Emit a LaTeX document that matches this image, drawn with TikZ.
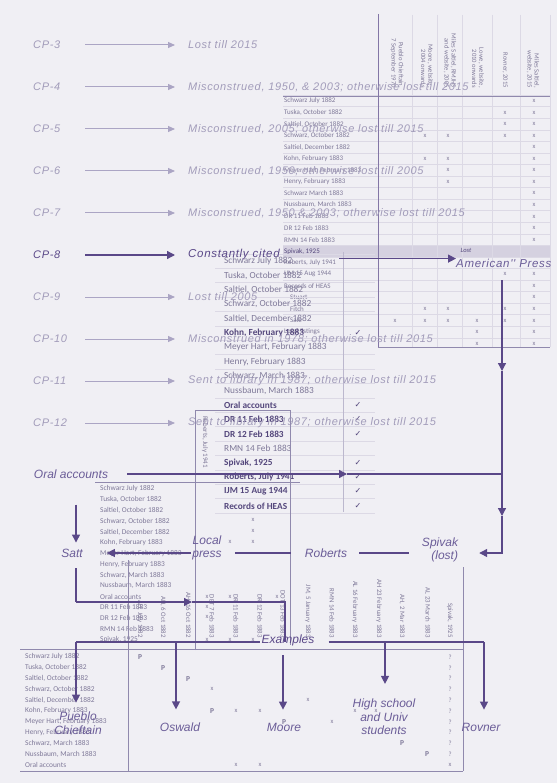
\documentclass[tikz,border=0pt]{standalone}
\usepackage{fontspec}
\setmainfont{Liberation Sans}
\newfontfamily\hand{Liberation Sans}
\newfontfamily\handw{Liberation Sans}[LetterSpace=6]
\newfontfamily\tab{Carlito}
\newfontfamily\sym{DejaVu Sans}
\usetikzlibrary{arrows.meta}
\definecolor{bg}{HTML}{F0EFF4}
\definecolor{dk}{HTML}{5A4888}
\definecolor{lb}{HTML}{6B5D98}
\definecolor{fd}{HTML}{ABA5C4}
\definecolor{fdt}{HTML}{A29CBA}
\definecolor{tt}{HTML}{7F7999}
\definecolor{tb}{HTML}{54477C}
\definecolor{gr}{HTML}{DCD9E5}
\definecolor{md}{HTML}{9089AD}
\definecolor{band}{HTML}{D5D1E0}
\tikzset{
  cpl/.style={font=\handw\itshape\fontsize{11}{12}\selectfont, text=fdt, anchor=west, inner sep=0pt},
  cpd/.style={cpl, text=dk},
  hl/.style={font=\hand\itshape\fontsize{12}{13.5}\selectfont, text=lb, inner sep=1pt, align=center},
  farr/.style={draw=fd, line width=1pt, -{Triangle[length=7pt,width=6pt]}},
  darr/.style={draw=dk, line width=1.3pt, -{Triangle[length=8pt,width=8pt]}},
  dln/.style={draw=dk, line width=1.3pt},
  mln/.style={draw=md, line width=0.7pt},
  vln/.style={draw=dk!75, line width=1pt},
  hln/.style={draw=md, line width=0.8pt},
  gln/.style={draw=gr, line width=0.5pt},
  ts/.style={font=\tab\fontsize{7}{8}\selectfont, text=tt, anchor=west, inner sep=0pt},
  tm/.style={font=\tab\fontsize{9.3}{10}\selectfont, text=tt, anchor=west, inner sep=0pt},
  tmb/.style={tm, font=\tab\bfseries\fontsize{9.3}{10}\selectfont, text=tb},
  tl/.style={font=\tab\fontsize{7.4}{8}\selectfont, text=tt, anchor=west, inner sep=0pt},
  xm/.style={font=\tab\fontsize{6.5}{7}\selectfont, text=tt, inner sep=0pt},
  pm/.style={font=\tab\bfseries\fontsize{7.5}{8}\selectfont, text=tt, inner sep=0pt},
  chk/.style={font=\sym\fontsize{8}{9}\selectfont, text=tb, inner sep=0pt},
  hdr/.style={font=\tab\fontsize{6.6}{7.2}\selectfont, text=tt, rotate=-90, anchor=east, align=right, inner sep=0pt},
  hdb/.style={font=\tab\fontsize{6.8}{7.5}\selectfont, text=tt, rotate=-90, anchor=east, inner sep=0pt},
}
\begin{document}
\begin{tikzpicture}[x=1pt,y=-1pt]
\fill[bg] (0,0) rectangle (557,783);
\useasboundingbox (0,0) rectangle (557,783);

% ================= right top table =================
\fill[band] (283,245.4) rectangle (550,256.9);
\foreach \k in {0,...,21} \draw[gln] (283,{95.2+11.55*\k}) -- (550,{95.2+11.55*\k});
\foreach \x in {412,437,462,492,520,550} \draw[gln] (\x,15) -- (\x,347);
\draw[hln] (283,96) -- (550,96);
\draw[vln] (378,14) -- (378,348);
\draw[hln] (378,347) -- (550,347);

\node[ts] (r0)  at (284,101)    {Schwarz July 1882};
\node[ts] (r1)  at (284,112.55) {Tuska, October 1882};
\node[ts] (r2)  at (284,124.1)  {Saltiel, October 1882};
\node[ts] (r3)  at (284,135.65) {Schwarz, October 1882};
\node[ts] (r4)  at (284,147.2)  {Saltiel, December 1882};
\node[ts] (r5)  at (284,158.75) {Kohn, February 1883};
\node[ts] (r6)  at (284,170.3)  {Meyer Hart, February 1883};
\node[ts] (r7)  at (284,181.85) {Henry, February 1883};
\node[ts] (r8)  at (284,193.4)  {Schwarz March 1883};
\node[ts] (r9)  at (284,204.95) {Nussbaum, March 1883};
\node[ts] (r10) at (284,216.5)  {DR 11 Feb 1883};
\node[ts] (r11) at (284,228.05) {DR 12 Feb 1883};
\node[ts] (r12) at (284,239.6)  {RMN 14 Feb 1883};
\node[ts,text=tb] (r13) at (284,251.15) {Spivak, 1925};
\node[ts] (r14) at (284,262.7)  {Roberts, July 1941};
\node[ts] (r15) at (284,274.25) {IJM 15 Aug 1944};
\node[ts] (r16) at (284,285.8)  {Records of HEAS};
\node[ts] (r17) at (290,297.35) {Stuart};
\node[ts] (r18) at (290,308.9)  {Fitch};
\node[ts] (r19) at (290,320.45) {Sale};
\node[ts] (r20) at (284,332)    {Local listings};

\node[hdr] (h1) at (397,88) {Pueblo Chieftain,\\7 September 1970};
\node[hdr] (h2) at (427,88) {Moore, website,\\2004 onwards};
\node[hdr] (h3) at (450,88) {Miles Saltiel, RMJHS\\and website, 2005};
\node[hdr] (h4) at (478,88) {Lowe, website,\\2010 onwards};
\node[hdr] (h5) at (505,88) {Rovner, 2015};
\node[hdr] (h6) at (533,88) {Miles Saltiel,\\website, 2015};
\node[font=\tab\itshape\fontsize{6.5}{7}\selectfont, text=tb, inner sep=0pt] (lost) at (466,250.5) {Lost};

\foreach \a/\b [count=\n] in {534/101, 505/112.55, 534/112.55, 505/124.1, 534/124.1,
  425/135.65, 448/135.65, 505/135.65, 534/135.65, 534/147.2,
  425/158.75, 448/158.75, 534/158.75, 448/170.3, 534/170.3, 448/181.85, 534/181.85,
  534/193.4, 534/204.95, 534/216.5, 534/228.05, 534/239.6,
  505/274.25, 534/274.25, 534/285.8, 534/297.35,
  425/308.9, 448/308.9, 505/308.9, 534/308.9,
  395/320.45, 425/320.45, 448/320.45, 477/320.45, 505/320.45, 534/320.45,
  477/332, 534/332, 477/343.55, 534/343.55}
  \node[xm] (xr\n) at (\a,\b) {x};

% ================= middle check table =================
\foreach \k in {-1,...,17} \draw[gln] (215,{268.2+14.4*\k}) -- (375,{268.2+14.4*\k});
\draw[draw=md!60, line width=0.6pt] (343,252) -- (343,512);
\node[tm]  (m0)  at (224,261)   {Schwarz July 1882};
\node[tm]  (m1)  at (224,275.4) {Tuska, October 1882};
\node[tm]  (m2)  at (224,289.8) {Saltiel, October 1882};
\node[tm]  (m3)  at (224,304.2) {Schwarz, October 1882};
\node[tm]  (m4)  at (224,318.6) {Saltiel, December 1882};
\node[tmb] (m5)  at (224,333)   {Kohn, February 1883};
\node[tm]  (m6)  at (224,347.4) {Meyer Hart, February 1883};
\node[tm]  (m7)  at (224,361.8) {Henry, February 1883};
\node[tm]  (m8)  at (224,376.2) {Schwarz, March 1883};
\node[tm]  (m9)  at (224,390.6) {Nussbaum, March 1883};
\node[tmb] (m10) at (224,405)   {Oral accounts};
\node[tmb] (m11) at (224,419.4) {DR 11 Feb 1883};
\node[tmb] (m12) at (224,433.8) {DR 12 Feb 1883};
\node[tm]  (m13) at (224,448.2) {RMN 14 Feb 1883};
\node[tmb] (m14) at (224,462.6) {Spivak, 1925};
\node[tmb] (m15) at (224,477)   {Roberts, July 1941};
\node[tmb] (m16) at (224,491.4) {IJM 15 Aug 1944};
\node[tmb] (m17) at (224,505.8) {Records of HEAS};
\foreach \i in {5,10,11,12,14,15,16,17}
  \node[chk] (ck\i) at (358,{261+14.4*\i}) {✓};

% ================= CP rows =================
\node[cpl] (cp3)  at (33,45)  {CP-3};
\node[cpl] (cp4)  at (33,87)  {CP-4};
\node[cpl] (cp5)  at (33,129) {CP-5};
\node[cpl] (cp6)  at (33,171) {CP-6};
\node[cpl] (cp7)  at (33,213) {CP-7};
\node[cpd] (cp8)  at (33,255) {CP-8};
\node[cpl] (cp9)  at (33,297) {CP-9};
\node[cpl] (cp10) at (33,339) {CP-10};
\node[cpl] (cp11) at (33,381) {CP-11};
\node[cpl] (cp12) at (33,423) {CP-12};
\node[cpl] (t3)  at (188,45)  {Lost till 2015};
\node[cpl] (t4)  at (188,87)  {Misconstrued, 1950, \& 2003; otherwise lost till 2015};
\node[cpl] (t5)  at (188,129) {Misconstrued, 2005; otherwise lost till 2015};
\node[cpl] (t6)  at (188,171) {Misconstrued, 1950; otherwise lost till 2005};
\node[cpl] (t7)  at (188,213) {Misconstrued, 1950 \& 2003; otherwise lost till 2015};
\node[cpd,font=\handw\itshape\fontsize{11.5}{13}\selectfont] (t8) at (188,255) {Constantly cited};
\node[cpl] (t9)  at (188,297) {Lost till 2005};
\node[cpl] (t10) at (188,339) {Misconstrued in 1978; otherwise lost till 2015};
\node[cpl] (t11) at (188,381) {Sent to library in 1987; otherwise lost till 2015};
\node[cpl] (t12) at (188,423) {Sent to library in 1987; otherwise lost till 2015};
\foreach \i in {3,4,5,6,7,9,10,11,12}
  \draw[farr] (cp\i.west) ++(52,0) -- ([xshift=-13pt]t\i.west);
\draw[darr] (cp8.west) ++(52,0) -- ([xshift=-13pt]t8.west);

% American Press
\node[hl, anchor=west, inner sep=0pt, font=\handw\itshape\fontsize{11.5}{13}\selectfont] (amp) at (456,263) {American'{}' Press};
\draw[darr] (amp.north west) ++(-117,0) -- (amp.north west);

% ================= lower left table =================
\draw[hln] (95,482) -- (300,482);
\node[tl] (l0)  at (100,489)   {Schwarz July 1882};
\node[tl] (l1)  at (100,499.8) {Tuska, October 1882};
\node[tl] (l2)  at (100,510.5) {Saltiel, October 1882};
\node[tl] (l3)  at (100,521.3) {Schwarz, October 1882};
\node[tl] (l4)  at (100,532)   {Saltiel, December 1882};
\node[tl] (l5)  at (100,542.8) {Kohn, February 1883};
\node[tl] (l6)  at (100,553.5) {Meyer Hart, February 1883};
\node[tl] (l7)  at (100,564.3) {Henry, February 1883};
\node[tl] (l8)  at (100,575)   {Schwarz, March 1883};
\node[tl] (l9)  at (100,585.8) {Nussbaum, March 1883};
\node[tl] (l10) at (100,596.5) {Oral accounts};
\node[tl] (l11) at (100,607.3) {DR 11 Feb 1883};
\node[tl] (l12) at (100,618)   {DR 12 Feb 1883};
\node[tl] (l13) at (100,628.8) {RMN 14 Feb 1883};
\node[tl] (l14) at (100,639.5) {Spivak, 1925};
\foreach \a/\b [count=\n] in {253/520, 253/531, 230/542, 253/542, 207/597, 207/607, 207/617,
  230/597, 277/597, 207/640, 230/640, 253/640}
  \node[xm] (xl\n) at (\a,\b) {x};

% box in the middle
\draw[mln] (195,650) -- (195,410) -- (290,410) -- (290,645);
\node[font=\tab\fontsize{7}{8}\selectfont, text=tt, rotate=-90, anchor=west, inner sep=0pt] (robv) at (205,416) {Roberts, July 1941};

% ================= bottom table =================
\draw[hln] (20,649) -- (463,649);
\draw[hln] (20,771) -- (463,771);
\draw[hln] (128,560) -- (128,771);
\draw[hln] (463,567) -- (463,771);
\node[hdb] (b1)  at (140,638) {AH, July 1882};
\node[hdb] (b2)  at (163,638) {AH, 6 Oct 1882};
\node[hdb] (b3)  at (188,638) {AH, 16 Oct 1882};
\node[hdb] (b4)  at (212,638) {DBT 7 Feb 1883};
\node[hdb] (b5)  at (236,638) {DR 11 Feb 1883};
\node[hdb] (b6)  at (260,638) {DR 12 Feb 1883};
\node[hdb] (b7)  at (283,638) {DOT 13 Feb 1883};
\node[hdb] (b8)  at (308,638) {JM, 5 January 1883};
\node[hdb] (b9)  at (332,638) {RMN 14 Feb 1883};
\node[hdb] (b10) at (355,638) {AL 16 February 1883};
\node[hdb] (b11) at (379,638) {AH 23 February 1883};
\node[hdb] (b12) at (402,638) {AH, 2 Mar 1883};
\node[hdb] (b13) at (428,638) {AL 23 March 1883};
\node[hdb] (b14) at (450,638) {Spivak, 1925};

\node[tl] (q0)  at (25,657)   {Schwarz July 1882};
\node[tl] (q1)  at (25,667.8) {Tuska, October 1882};
\node[tl] (q2)  at (25,678.6) {Saltiel, October 1882};
\node[tl] (q3)  at (25,689.4) {Schwarz, October 1882};
\node[tl] (q4)  at (25,700.2) {Saltiel, December 1882};
\node[tl] (q5)  at (25,711)   {Kohn, February 1883};
\node[tl] (q6)  at (25,721.8) {Meyer Hart, February 1883};
\node[tl] (q7)  at (25,732.6) {Henry, February 1883};
\node[tl] (q8)  at (25,743.4) {Schwarz, March 1883};
\node[tl] (q9)  at (25,754.2) {Nussbaum, March 1883};
\node[tl] (q10) at (25,765)   {Oral accounts};
\foreach \i in {0,...,9} \node[xm] (qm\i) at (450,{657+10.8*\i}) {?};
\foreach \a/\b [count=\n] in {140/657, 163/667.8, 188/678.6, 212/711, 284/721.8, 402/743.4, 427/754.2}
  \node[pm] (pp\n) at (\a,\b) {P};
\foreach \a/\b [count=\n] in {212/689.4, 308/700.2, 236/711, 260/711, 355/711, 376/711, 332/721.8,
  236/765, 260/765, 450/765}
  \node[xm] (xb\n) at (\a,\b) {x};

% ================= flow labels and arrows =================
\node[hl] (oral) at (71,474) {Oral accounts};
\node[hl] (satt) at (72,553) {Satt};
\node[hl] (lp) at (207,548) {Local\\press};
\node[hl] (rob) at (326,553) {Roberts};
\node[hl, align=right] (spv) at (440,550) {Spivak\\(lost)};
\node[hl, text=dk] (ex) at (288,640) {Examples};
\node[hl] (pc) at (78,723) {Pueblo\\Chieftain};
\node[hl] (osw) at (180,727) {Oswald};
\node[hl] (moo) at (284,727) {Moore};
\node[hl] (hs) at (384,717) {High school\\and Univ\\students};
\node[hl] (rov) at (481,727) {Rovner};

\coordinate (ochk) at (347,0);
\coordinate (vx) at (502,0);
\draw[darr, shorten <=18pt] (oral.east) -- (oral.east -| ochk);
\draw[dln] (oral.east -| ochk) -- (oral.east -| vx);

% big vertical from American Press to Spivak
\coordinate (v0) at (502,280);
\coordinate (v1) at (502,371);
\coordinate (v2) at (502,516);
\coordinate (v3) at (502,553);
\draw[darr] (v0) -- (v1);
\draw[darr] (v1) -- (v2);
\draw[darr, shorten >=20pt] (v2) -- (v3) -- (v3 -| spv.east);

% Spivak -- Roberts -- Local press -> Satt
\draw[dln, shorten <=11pt, shorten >=12pt] (rob.east) -- (rob.east -| spv.west);
\draw[dln, shorten <=12pt, shorten >=13pt] (rob.west -| lp.east) -- (rob.west);
\draw[darr, shorten >=23pt] (rob.west -| lp.west) -- (rob.west -| satt.east);

% Oral accounts -> Satt
\draw[darr] ([xshift=4pt,yshift=43pt]satt.north) -- ([xshift=4pt,yshift=5pt]satt.north);

% Satt -> Examples
\coordinate (s1) at (76,568);
\coordinate (s2) at (76,602);
\coordinate (sm) at (192,602);
\coordinate (s3) at (285,602);
\coordinate (s4) at (285,642);
\draw[dln] (s1) -- (s2);
\draw[darr] (s2) -- (sm);
\draw[dln] (sm) -- (s3) -- (s4);

% Examples distribution
\coordinate (e0) at (76,642);
\coordinate (e1) at (176,642);
\coordinate (m0) at (283,655);
\coordinate (e3) at (385,642);
\coordinate (e4) at (484,642);
\draw[dln] (e0) -- (e0 -| ex.west);
\draw[dln, shorten <=13pt] (e0 -| ex.east) -- (e4);
\draw[darr, shorten >=8pt] (e0) -- (e0 |- pc.north);
\draw[darr, shorten >=12pt] (e1) -- (e1 |- osw.north);
\draw[darr, shorten >=12pt] (m0) -- (m0 |- moo.north);
\draw[darr, shorten >=14pt] (e3) -- (e3 |- hs.north);
\draw[darr, shorten >=12pt] (e4) -- (e4 |- rov.north);
\end{tikzpicture}
\end{document}
